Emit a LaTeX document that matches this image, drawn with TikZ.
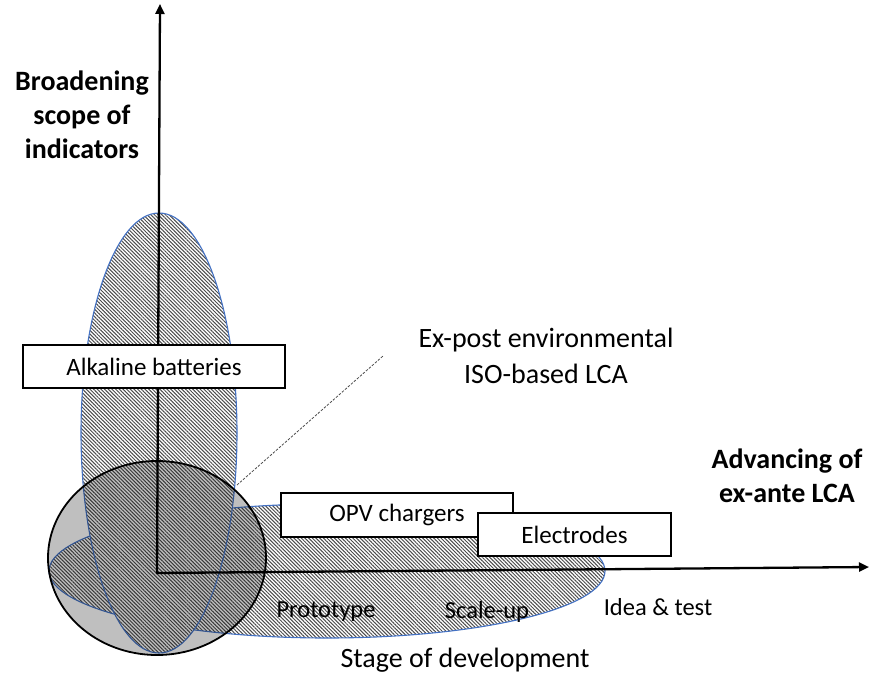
\documentclass[tikz,border=0pt]{standalone}
\usepackage{fontspec}
\setmainfont{Carlito}
\usetikzlibrary{arrows.meta,patterns.meta}
\definecolor{edgeblue}{HTML}{4472C4}
\tikzset{
  hatch/.style={pattern={Lines[angle=-45,distance=2.6pt,line width=1.0pt]},pattern color=black!70},
  blob/.style={draw=edgeblue,line width=1.1pt},
  boxnode/.style={draw=black,line width=1.4pt,fill=white,inner sep=0pt,font=\fontsize{25}{30}\selectfont},
  axisline/.style={line width=2.3pt,black,{Triangle[length=10pt,width=9pt]}-{Triangle[length=10pt,width=9pt]}},
  headtext/.style={align=center,font=\bfseries\fontsize{28}{34}\selectfont,inner sep=0pt},
  plaintext/.style={align=center,font=\fontsize{28}{36}\selectfont,inner sep=0pt},
  smalltext/.style={font=\fontsize{24.5}{30}\selectfont,inner sep=0pt},
  leader/.style={line width=0.8pt,black!70,dash pattern=on 2.5pt off 1.5pt}
}
\begin{document}
\begin{tikzpicture}[x=1pt,y=-1pt]
\useasboundingbox (0,0) rectangle (870,678);
% horizontal ellipse
\fill[white] (327,571) ellipse [x radius=278,y radius=67];
\fill[hatch] (327,571) ellipse [x radius=278,y radius=67];
\draw[blob] (327,571) ellipse [x radius=278,y radius=67];
% vertical ellipse
\fill[white] (159,433) ellipse [x radius=78,y radius=220];
\fill[hatch] (159,433) ellipse [x radius=78,y radius=220];
\draw[blob] (159,433) ellipse [x radius=78,y radius=220];
% circle
\fill[black,fill opacity=0.25] (157,558) ellipse [x radius=109,y radius=97];
\draw[black,line width=1.8pt] (157,558) ellipse [x radius=109,y radius=97];
% leader line
\coordinate (lstart) at (237,485);
\coordinate (lend) at (383,356);
\draw[leader] (lstart) -- (lend);
% axes
\coordinate (origin) at (157,573);
\coordinate (ytip) at (160,4);
\coordinate (xtip) at (869,567);
\draw[axisline,line join=miter] (ytip) -- (origin) -- (xtip);
% boxes
\node[boxnode,minimum width=262pt,minimum height=43pt] (alk) at (154,366.5) {Alkaline batteries};
\node[boxnode,minimum width=232pt,minimum height=44pt] (opv) at (397,515) {OPV chargers};
\node[boxnode,minimum width=193pt,minimum height=43pt] (elec) at (574.5,534.5) {Electrodes};
% texts
\node[headtext] (ylab) at (82,115) {Broadening\\scope of\\indicators};
\node[headtext] (xlab) at (787,476) {Advancing of\\ex-ante LCA};
\node[plaintext] (expost) at (546,356) {Ex-post environmental\\ISO-based LCA};
\node[smalltext] (proto) at (326,612) {Prototype};
\node[smalltext] (scale) at (487,612) {Scale-up};
\node[smalltext] (idea) at (658,607) {Idea \& test};
\node[plaintext] (stage) at (465,660) {Stage of development};
\end{tikzpicture}
\end{document}
